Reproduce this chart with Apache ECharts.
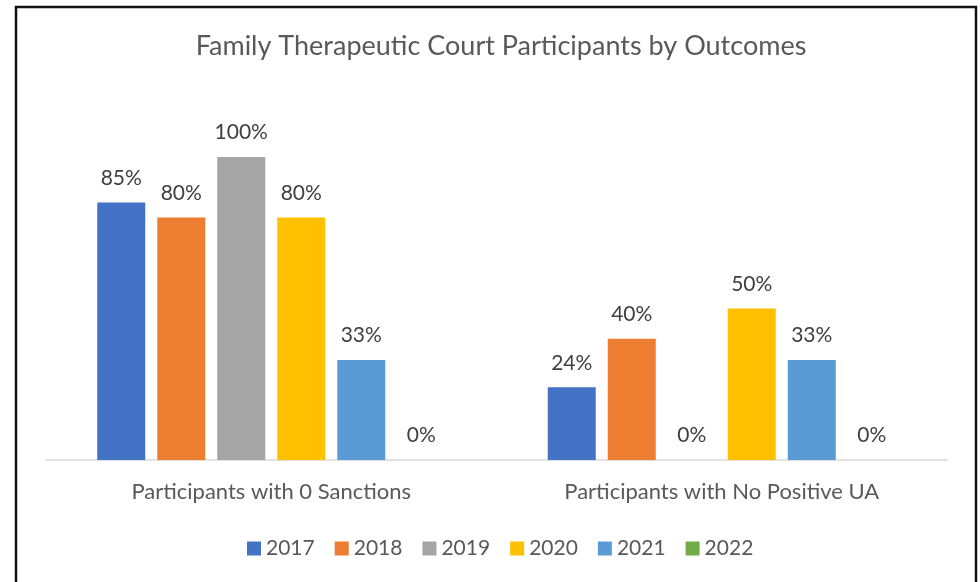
<!DOCTYPE html>
<html>
<head>
<meta charset="utf-8">
<script src="https://cdn.jsdelivr.net/npm/echarts@6/dist/echarts.min.js"></script>
<style>
  html, body { margin: 0; padding: 0; background: #fff; }
  #chart { width: 980px; height: 582px; }
</style>
</head>
<body>
<div id="chart"></div>
<script>
// 分类
const categories = ['Participants with 0 Sanctions', 'Participants with No Positive UA']
// 年份
const years = ['2017', '2018', '2019', '2020', '2021', '2022']
// 各年份数据 (%)
const values2017 = [85, 24]
const values2018 = [80, 40]
const values2019 = [100, 0]
const values2020 = [80, 50]
const values2021 = [33, 33]
const values2022 = [0, 0]

const seriesValues = [values2017, values2018, values2019, values2020, values2021, values2022]
const colors = ['#4472C4', '#ED7D31', '#A5A5A5', '#FFC000', '#5B9BD5', '#70AD47']
const fontFamily = 'Lato, "Open Sans", sans-serif'

const chart = echarts.init(document.getElementById('chart'))

const options = {
  color: colors,
  animation: false,
  title: {
    text: 'Family Therapeutic Court Participants by Outcomes',
    left: 496,
    top: 28,
    textAlign: 'center',
    textStyle: {
      fontFamily,
      fontSize: 27,
      fontWeight: 'normal',
      color: '#595959'
    }
  },
  graphic: [
    {
      type: 'rect',
      shape: { x: 16, y: 7, width: 960, height: 620 },
      style: { fill: 'none', stroke: '#111', lineWidth: 2.5 },
      silent: true
    }
  ],
  legend: {
    data: years,
    left: 242,
    top: 533,
    itemWidth: 14,
    itemHeight: 14,
    itemGap: 20,
    icon: 'rect',
    textStyle: {
      fontFamily,
      fontSize: 21,
      color: '#595959'
    }
  },
  grid: {
    left: 46,
    right: 33,
    top: 157,
    bottom: 122,
    containLabel: false
  },
  xAxis: {
    type: 'category',
    data: categories,
    axisLine: { lineStyle: { color: '#d9d9d9', width: 1.5 } },
    axisTick: { show: false },
    axisLabel: {
      margin: 21,
      fontFamily,
      fontSize: 22,
      color: '#595959'
    }
  },
  yAxis: {
    type: 'value',
    min: 0,
    max: 100,
    show: false,
    splitLine: { show: false }
  },
  series: years.map((year, i) => ({
    name: year,
    type: 'bar',
    data: seriesValues[i],
    barWidth: 48,
    barGap: '25%',
    label: {
      show: true,
      position: 'top',
      distance: 14,
      formatter: '{c}%',
      fontFamily,
      fontSize: 21,
      color: '#404040'
    }
  }))
}

chart.setOption(options)
</script>
</body>
</html>
